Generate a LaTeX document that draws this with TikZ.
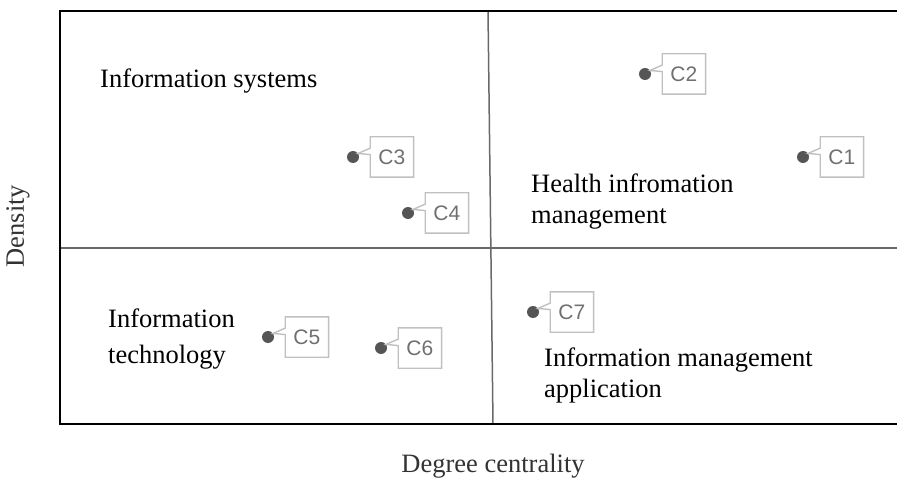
\documentclass[tikz,border=0pt]{standalone}
\usepackage{fontspec}
\setmainfont{Liberation Serif}
\setsansfont{Liberation Sans}
\usetikzlibrary{positioning, calc}
\definecolor{axisgray}{RGB}{105,105,105}
\definecolor{dotgray}{RGB}{85,85,85}
\definecolor{boxgray}{RGB}{192,192,192}
\definecolor{labelgray}{RGB}{112,112,112}

\begin{document}
\begin{tikzpicture}[
    x=1pt, y=-1pt,
    quad/.style={align=left, anchor=west, inner sep=0pt, font=\fontsize{26.5}{31}\selectfont},
    axislabel/.style={text=black!80, font=\fontsize{26.5}{31}\selectfont},
    dot/.style={circle, fill=dotgray, inner sep=0pt, minimum size=12pt},
    tag/.style={rectangle, minimum width=43pt, minimum height=40pt, inner sep=0pt, text=labelgray, font=\sffamily\fontsize{21}{24}\selectfont},
    node distance=11pt
]
    \useasboundingbox (0,0) rectangle (897,481);

    % Frame
    \coordinate (tl) at (60,11);
    \coordinate (tr) at (897,11);
    \coordinate (bl) at (60,424);
    \coordinate (br) at (897,424);
    \coordinate (ml) at (60,248);
    \coordinate (mr) at (897,248);
    \coordinate (mt) at (488,11);
    \coordinate (mb) at (493,424);
    \draw[axisgray, line width=1.5pt] (ml) -- (mr);
    \draw[axisgray, line width=1.5pt] (mt) -- (mb);
    \draw[black, line width=2.2pt] (tr) -- (tl) -- (bl) -- (br);

    % Quadrant names
    \node[quad] (qa) at (100,81) {Information systems};
    \node[quad] (qb) at (531,202) {Health infromation\\management};
    \node[quad] (qc) at (108,339) {Information\\[5pt]technology};
    \node[quad] (qd) at (544,375) {Information management\\application};

    % Axis titles
    \node[axislabel, rotate=90] (ylab) at (18,226) {Density};
    \node[axislabel] (xlab) at (493,466) {Degree centrality};

    % Clusters
    \foreach \n/\x/\y in {1/803/157, 2/645/74, 3/353/157, 4/408/213, 5/268/337, 6/381/348, 7/533/312} {
        \node[dot] (d\n) at (\x,\y) {};
        \node[tag, right=of d\n] (t\n) {C\n};
        \draw[boxgray, line width=1.4pt, line join=miter]
            (t\n.north west) -- ($(t\n.north west)!0.28!(t\n.south west)$) -- (d\n.35)
            -- ($(t\n.north west)!0.44!(t\n.south west)$) -- (t\n.south west)
            -- (t\n.south east) -- (t\n.north east) -- cycle;
    }
\end{tikzpicture}
\end{document}
